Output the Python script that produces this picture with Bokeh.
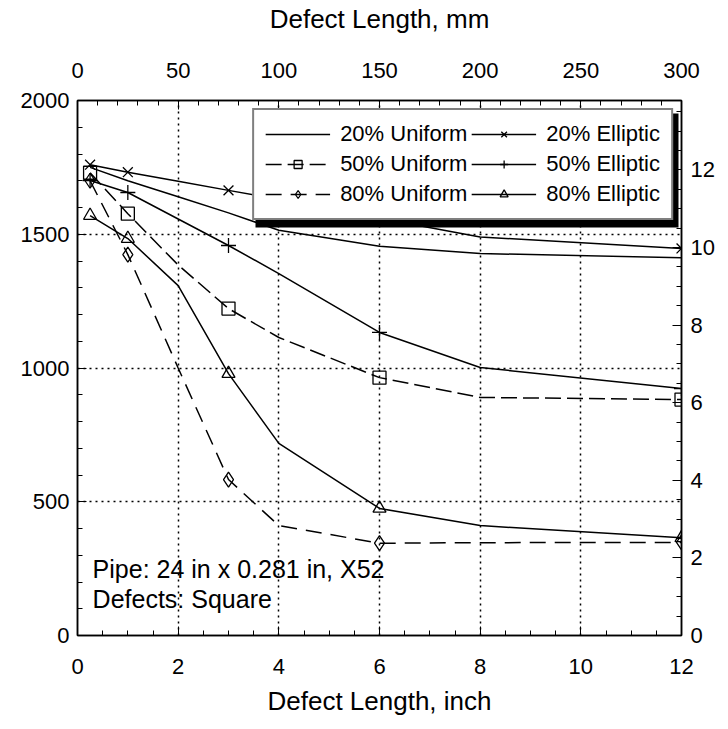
from bokeh.plotting import figure
from bokeh.models import (LinearAxis, Range1d, SingleIntervalTicker, Legend,
                          LegendItem, Label, BoxAnnotation)
from bokeh.embed import file_html
from bokeh.resources import INLINE

# ---------------- data ----------------
LENGTH_IN = [0.25, 1, 2, 3, 4, 6, 8, 12]      # defect length, inch
TEST_IN = [0.25, 1, 3, 6, 12]                  # lengths carrying markers
U20 = [1750, 1700, 1640, 1580, 1515, 1455, 1428, 1412]
U50 = [1730, 1577, 1385, 1222, 1114, 964, 890, 882]
U80 = [1700, 1424, 1000, 583, 411, 345, 347, 348]
E20 = [1760, 1732, 1698, 1664, 1630, 1560, 1490, 1447]
E50 = [1701, 1656, 1557, 1458, 1353, 1133, 1002, 923]
E80 = [1570, 1484, 1308, 979, 718, 475, 411, 365]
SERIES_NAMES = ["20% Uniform", "50% Uniform", "80% Uniform",
                "20% Elliptic", "50% Elliptic", "80% Elliptic"]
PSI_TO_MPA = 0.00689476
MM_PER_IN_AXIS = 25.0
NOTE_LINES = ["Pipe: 24 in x 0.281 in, X52", "Defects: Square"]

FONT = "Liberation Sans"

p = figure(width=728, height=729, x_range=Range1d(0, 12), y_range=Range1d(0, 2000),
           output_backend="svg", toolbar_location=None,
           min_border_left=77, min_border_right=47, min_border_top=100,
           min_border_bottom=94)
p.background_fill_color = "white"
p.border_fill_color = "white"
p.outline_line_color = "black"
p.outline_line_width = 1.5

p.extra_x_ranges = {"mm": Range1d(0, 12 * MM_PER_IN_AXIS)}
p.extra_y_ranges = {"mpa": Range1d(0, 2000 * PSI_TO_MPA)}

bottom = p.below[0]
left = p.left[0]
bottom.ticker = SingleIntervalTicker(interval=2, num_minor_ticks=4)
left.ticker = SingleIntervalTicker(interval=500, num_minor_ticks=5)
bottom.axis_label = "Defect Length, inch"

top = LinearAxis(x_range_name="mm", axis_label="Defect Length, mm",
                 ticker=SingleIntervalTicker(interval=50, num_minor_ticks=5))
right = LinearAxis(y_range_name="mpa",
                   ticker=SingleIntervalTicker(interval=2, num_minor_ticks=4))
p.add_layout(top, "above")
p.add_layout(right, "right")

for ax in [bottom, left, top, right]:
    ax.major_tick_in = 9
    ax.major_tick_out = 0
    ax.minor_tick_in = 5
    ax.minor_tick_out = 0
    ax.axis_line_color = "black"
    ax.axis_line_width = 1.5
    ax.major_tick_line_color = "black"
    ax.minor_tick_line_color = "black"
    ax.major_label_text_font = FONT
    ax.major_label_text_font_size = "22px"
    ax.major_label_text_color = "black"
    ax.axis_label_text_font = FONT
    ax.axis_label_text_font_size = "26px"
    ax.axis_label_text_font_style = "normal"
    ax.axis_label_text_color = "black"

bottom.major_label_standoff = 23
bottom.axis_label_standoff = 9
top.major_label_standoff = 23
top.axis_label_standoff = 26
left.major_label_standoff = 8
right.major_label_standoff = 9

for g in [p.xgrid[0], p.ygrid[0]]:
    g.grid_line_color = "black"
    g.grid_line_dash = "2 4"
    g.grid_line_width = 1.5

def marker_pts(series):
    xs = [x for x in LENGTH_IN if x in TEST_IN]
    ys = [y for x, y in zip(LENGTH_IN, series) if x in TEST_IN]
    return xs, ys

styles = [
    (U20, "solid", None, 0),
    (U50, "16 6", "square", 13),
    (U80, "16 9", "diamond", 15),
    (E20, "solid", "x", 14),
    (E50, "solid", "cross", 15),
    (E80, "solid", "triangle", 13),
]
items = []
for name, (ser, dash, mk, sz) in zip(SERIES_NAMES, styles):
    rs = [p.line(LENGTH_IN, ser, line_color="black", line_width=1.5, line_dash=dash)]
    if mk:
        mx, my = marker_pts(ser)
        rs.append(p.scatter(mx, my, marker=mk, size=sz, line_color="black",
                            line_width=1.3, fill_alpha=0))
    items.append(LegendItem(label=name, renderers=rs))

# drop shadow of the legend box (offset right / down), pixel -> data
px_x = 12 / 604.0
px_y = 2000 / 535.0
shadow = BoxAnnotation(left=(255 - 77) * px_x, right=(678 - 77) * px_x,
                       top=2000 - (113 - 100) * px_y,
                       bottom=2000 - (227 - 100) * px_y,
                       fill_color="black", fill_alpha=1.0, line_alpha=0)
p.add_layout(shadow)

legend = Legend(items=items, location="top_right", ncols=2)
legend.label_text_font = FONT
legend.label_text_font_size = "22px"
legend.label_text_color = "black"
legend.glyph_width = 65
legend.glyph_height = 20
legend.label_height = 20
legend.label_standoff = 10
legend.spacing = 4
legend.padding = 11
legend.margin = 8
legend.border_line_color = "black"
legend.border_line_width = 2
legend.background_fill_color = "white"
legend.background_fill_alpha = 1.0
p.add_layout(legend, "center")

for i, txt in enumerate(NOTE_LINES):
    p.add_layout(Label(x=0.3, y=250 - i * 112, text=txt, text_font=FONT,
                       text_font_size="25px", text_baseline="middle",
                       text_color="black"))

open("out.html", "w").write(file_html(p, INLINE))
